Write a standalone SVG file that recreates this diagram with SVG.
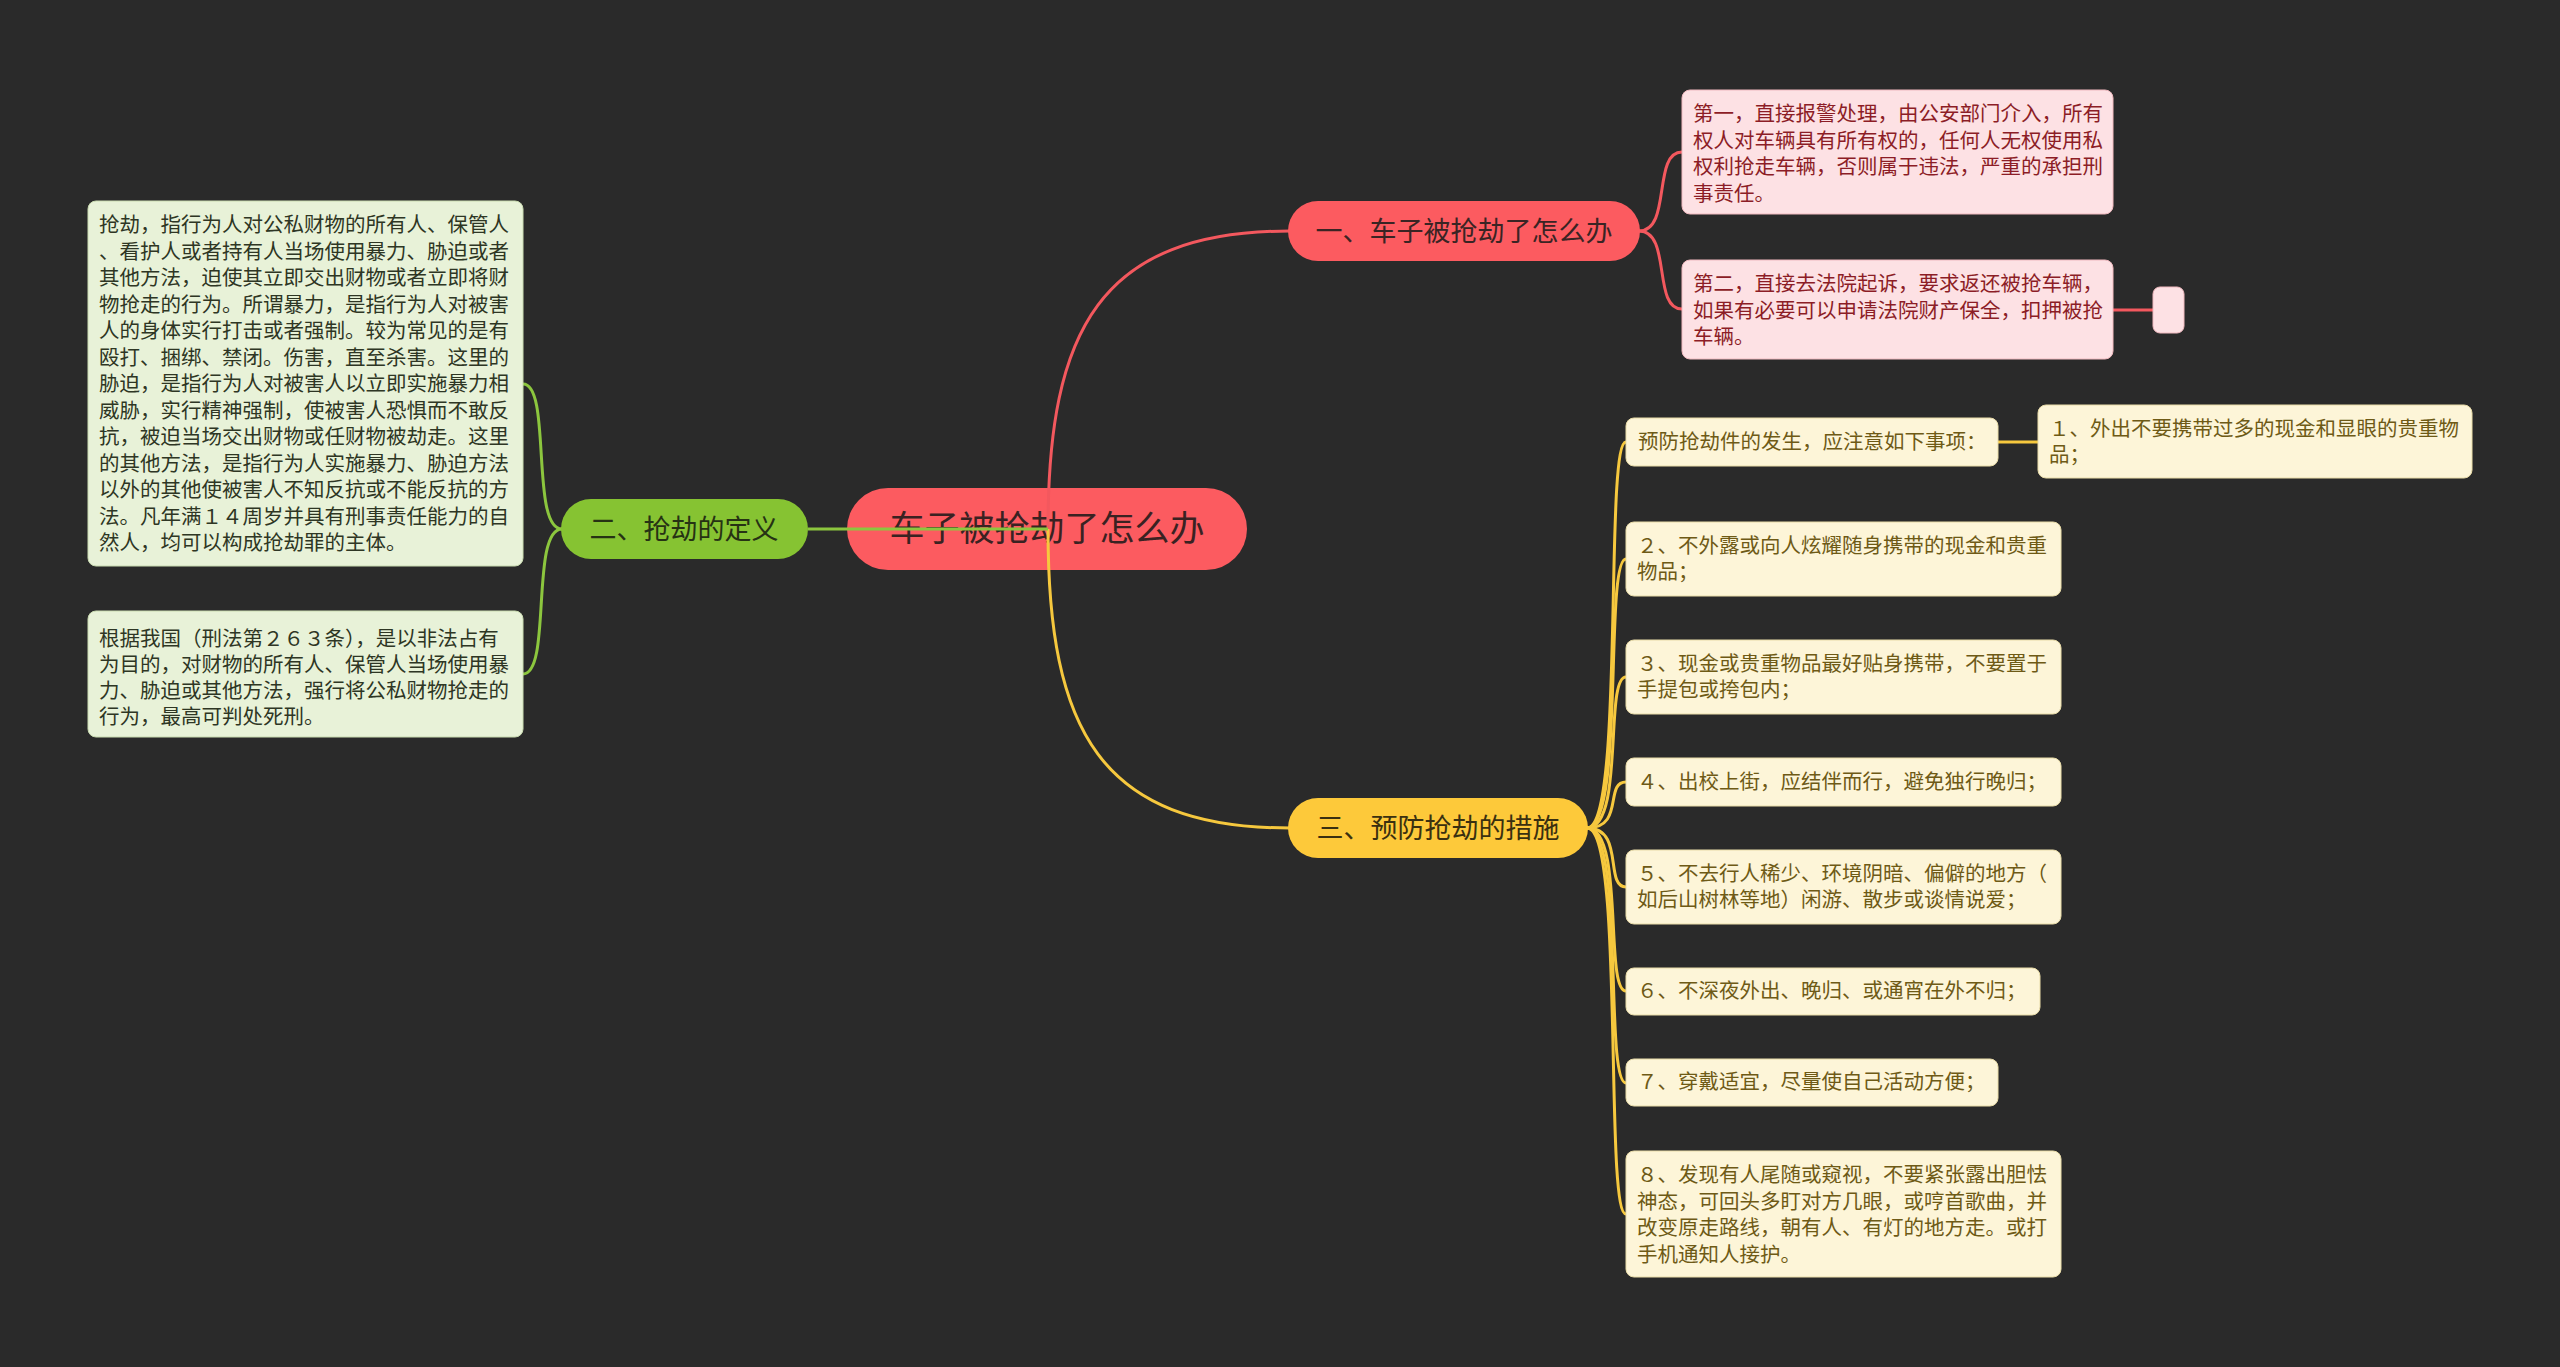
<svg xmlns="http://www.w3.org/2000/svg" width="2560" height="1367" viewBox="0 0 2560 1367">
<style>
text{font-family:"Noto Sans CJK SC","Noto Sans",sans-serif}
.t{font-size:20.5px}
.tg{fill:#2e3624}
.tr{fill:#8c1d26}
.ty{fill:#6e5a16}
.bg{fill:#e8f2d8;stroke:#c9dbb0;stroke-width:1}
.br{fill:#fde1e4;stroke:#f0b9bf;stroke-width:1}
.by{fill:#fdf5d8;stroke:#e9dca8;stroke-width:1}
.pill{font-size:27px;text-anchor:middle}
.cr{fill:none;stroke:#f3585e;stroke-width:3}
.cg{fill:none;stroke:#8cc63e;stroke-width:3}
.cy{fill:none;stroke:#f6c83e;stroke-width:3}
</style>
<rect width="2560" height="1367" fill="#2a2a2a"/>

<g id="root">
<rect x="847" y="488" width="400" height="82" rx="41" fill="#fc5b60"/>
<text x="1047" y="541" font-size="35" text-anchor="middle" fill="#3a2222">车子被抢劫了怎么办</text>
</g>

<g id="connectors">
<path class="cr" d="M1048,529 C1048,330 1100,231 1290,231"/>
<path class="cy" d="M1048,529 C1048,730 1100,828 1290,828"/>
<path class="cg" d="M1048,529 L808,529"/>
<path class="cg" d="M562,529 C530,529 552,384 523,384"/>
<path class="cg" d="M562,529 C530,529 552,674 523,674"/>
<path class="cr" d="M1639,231 C1672,231 1652,152 1682,152"/>
<path class="cr" d="M1639,231 C1672,231 1652,309 1682,309"/>
<path class="cr" d="M2113,310 L2153,310"/>
<path class="cy" d="M1587,828 C1625,828 1604,442 1626,442"/>
<path class="cy" d="M1998,442 L2038,442"/>
<path class="cy" d="M1587,828 C1625,828 1604,559 1626,559"/>
<path class="cy" d="M1587,828 C1625,828 1604,677 1626,677"/>
<path class="cy" d="M1587,828 C1625,828 1604,782 1626,782"/>
<path class="cy" d="M1587,828 C1625,828 1604,887 1626,887"/>
<path class="cy" d="M1587,828 C1625,828 1604,991 1626,991"/>
<path class="cy" d="M1587,828 C1625,828 1604,1083 1626,1083"/>
<path class="cy" d="M1587,828 C1625,828 1604,1214 1626,1214"/>
</g>

<g id="branch1">
<rect x="1288" y="201" width="352" height="60" rx="30" fill="#fc5b60"/>
<text class="pill" x="1464" y="241" fill="#3a2424">一、车子被抢劫了怎么办</text>
</g>
<g id="branch2">
<rect x="561" y="499" width="247" height="60" rx="30" fill="#86c332"/>
<text class="pill" x="684" y="539" fill="#263214">二、抢劫的定义</text>
</g>
<g id="branch3">
<rect x="1288" y="798" width="300" height="60" rx="30" fill="#fdc93a"/>
<text class="pill" x="1438" y="838" fill="#3a3010">三、预防抢劫的措施</text>
</g>

<g id="def1">
<rect class="bg" x="88" y="201" width="435" height="365" rx="8"/>
<text class="t tg">
<tspan x="99" y="232">抢劫，指行为人对公私财物的所有人、保管人</tspan>
<tspan x="99" y="258.5">、看护人或者持有人当场使用暴力、胁迫或者</tspan>
<tspan x="99" y="285">其他方法，迫使其立即交出财物或者立即将财</tspan>
<tspan x="99" y="311.5">物抢走的行为。所谓暴力，是指行为人对被害</tspan>
<tspan x="99" y="338">人的身体实行打击或者强制。较为常见的是有</tspan>
<tspan x="99" y="364.5">殴打、捆绑、禁闭。伤害，直至杀害。这里的</tspan>
<tspan x="99" y="391">胁迫，是指行为人对被害人以立即实施暴力相</tspan>
<tspan x="99" y="417.5">威胁，实行精神强制，使被害人恐惧而不敢反</tspan>
<tspan x="99" y="444">抗，被迫当场交出财物或任财物被劫走。这里</tspan>
<tspan x="99" y="470.5">的其他方法，是指行为人实施暴力、胁迫方法</tspan>
<tspan x="99" y="497">以外的其他使被害人不知反抗或不能反抗的方</tspan>
<tspan x="99" y="523.5">法。凡年满１４周岁并具有刑事责任能力的自</tspan>
<tspan x="99" y="550">然人，均可以构成抢劫罪的主体。</tspan>
</text>
</g>
<g id="def2">
<rect class="bg" x="88" y="611" width="435" height="126" rx="8"/>
<text class="t tg">
<tspan x="99" y="646">根据我国（刑法第２６３条），是以非法占有</tspan>
<tspan x="99" y="672">为目的，对财物的所有人、保管人当场使用暴</tspan>
<tspan x="99" y="698">力、胁迫或其他方法，强行将公私财物抢走的</tspan>
<tspan x="99" y="724">行为，最高可判处死刑。</tspan>
</text>
</g>

<g id="red1">
<rect class="br" x="1682" y="90" width="431" height="124" rx="8"/>
<text class="t tr">
<tspan x="1693" y="121">第一，直接报警处理，由公安部门介入，所有</tspan>
<tspan x="1693" y="147.5">权人对车辆具有所有权的，任何人无权使用私</tspan>
<tspan x="1693" y="174">权利抢走车辆，否则属于违法，严重的承担刑</tspan>
<tspan x="1693" y="200.5">事责任。</tspan>
</text>
</g>
<g id="red2">
<rect class="br" x="1682" y="260" width="431" height="99" rx="8"/>
<text class="t tr">
<tspan x="1693" y="291">第二，直接去法院起诉，要求返还被抢车辆，</tspan>
<tspan x="1693" y="317.5">如果有必要可以申请法院财产保全，扣押被抢</tspan>
<tspan x="1693" y="344">车辆。</tspan>
</text>
</g>
<g id="red2child">
<rect class="br" x="2153" y="287" width="31" height="46" rx="7"/>
</g>

<g id="y0">
<rect class="by" x="1626" y="418" width="372" height="48" rx="8"/>
<text class="t ty" x="1638" y="449">预防抢劫件的发生，应注意如下事项：</text>
</g>
<g id="y1">
<rect class="by" x="2038" y="405" width="434" height="73" rx="8"/>
<text class="t ty">
<tspan x="2049" y="436">１、外出不要携带过多的现金和显眼的贵重物</tspan>
<tspan x="2049" y="462">品；</tspan>
</text>
</g>
<g id="y2">
<rect class="by" x="1626" y="522" width="435" height="74" rx="8"/>
<text class="t ty">
<tspan x="1637" y="553">２、不外露或向人炫耀随身携带的现金和贵重</tspan>
<tspan x="1637" y="579">物品；</tspan>
</text>
</g>
<g id="y3">
<rect class="by" x="1626" y="640" width="435" height="74" rx="8"/>
<text class="t ty">
<tspan x="1637" y="671">３、现金或贵重物品最好贴身携带，不要置于</tspan>
<tspan x="1637" y="697">手提包或挎包内；</tspan>
</text>
</g>
<g id="y4">
<rect class="by" x="1626" y="758" width="435" height="48" rx="8"/>
<text class="t ty" x="1637" y="789">４、出校上街，应结伴而行，避免独行晚归；</text>
</g>
<g id="y5">
<rect class="by" x="1626" y="850" width="435" height="74" rx="8"/>
<text class="t ty">
<tspan x="1637" y="881">５、不去行人稀少、环境阴暗、偏僻的地方（</tspan>
<tspan x="1637" y="907">如后山树林等地）闲游、散步或谈情说爱；</tspan>
</text>
</g>
<g id="y6">
<rect class="by" x="1626" y="968" width="414" height="47" rx="8"/>
<text class="t ty" x="1637" y="998">６、不深夜外出、晚归、或通宵在外不归；</text>
</g>
<g id="y7">
<rect class="by" x="1626" y="1059" width="372" height="47" rx="8"/>
<text class="t ty" x="1637" y="1089">７、穿戴适宜，尽量使自己活动方便；</text>
</g>
<g id="y8">
<rect class="by" x="1626" y="1151" width="435" height="126" rx="8"/>
<text class="t ty">
<tspan x="1637" y="1182">８、发现有人尾随或窥视，不要紧张露出胆怯</tspan>
<tspan x="1637" y="1208.5">神态，可回头多盯对方几眼，或哼首歌曲，并</tspan>
<tspan x="1637" y="1235">改变原走路线，朝有人、有灯的地方走。或打</tspan>
<tspan x="1637" y="1261.5">手机通知人接护。</tspan>
</text>
</g>
</svg>
